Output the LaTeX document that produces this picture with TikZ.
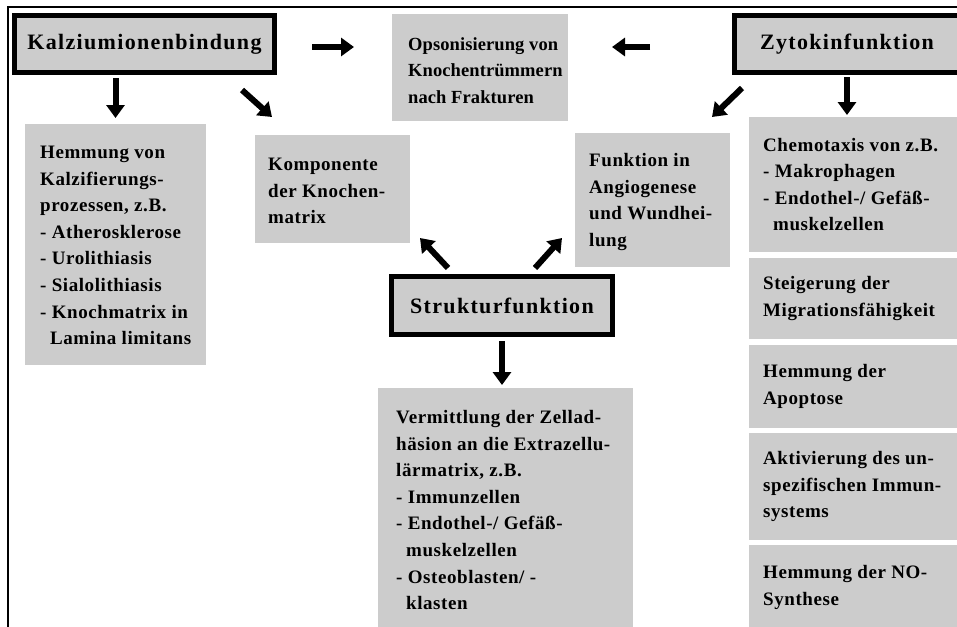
\documentclass[tikz,border=0pt]{standalone}
\usepackage{fontspec}
\setmainfont{Liberation Serif}[LetterSpace=6]
\newfontfamily\bodyfont{Liberation Serif}[LetterSpace=3]
\newfontfamily\opsfont{Liberation Serif}[LetterSpace=0.5]
\usetikzlibrary{arrows.meta,calc}
\definecolor{boxgray}{gray}{0.8}
\tikzset{
  graybox/.style={fill=boxgray, draw=none, inner sep=0pt, outer sep=0pt, anchor=north west},
  headbox/.style={fill=boxgray, draw=black, line width=5pt, inner sep=0pt, outer sep=2.5pt,
    font=\fontsize{22}{26}\selectfont\bfseries},
  boxtext/.style={anchor=west, inner sep=0pt, align=left,
    font=\bodyfont\fontsize{19}{26.6}\selectfont\bfseries},
  bigarrow/.style={line width=6pt, -{Triangle[length=13pt,width=18pt]}},
}
\begin{document}
\begin{tikzpicture}[x=1pt,y=-1pt]
\useasboundingbox (0,0) rectangle (957,626);
\clip (0,0) rectangle (957,626);
% frame
\draw[line width=2pt] (8,640) -- (8,7) -- (970,7);

% title boxes
\node[headbox, minimum width=260pt, minimum height=57pt] (kal) at (144.5,44) {Kalziumionenbindung};
\node[headbox, minimum width=225pt, minimum height=57pt] (zyt) at (847,44) {Zytokinfunktion};
\node[headbox, minimum width=221pt, minimum height=58pt] (str) at (502,305.5) {Strukturfunktion};

% gray boxes
\node[graybox, minimum width=176pt, minimum height=107pt] (ops) at (392,14) {};
\node[boxtext, font=\opsfont\fontsize{18.5}{26.6}\selectfont\bfseries] (opst) at ($(ops.west)+(16,3)$) {Opsonisierung von\\Knochentrümmern\\nach Frakturen};

\node[graybox, minimum width=181pt, minimum height=241pt] (hem) at (25,124) {};
\node[boxtext] (hemt) at ($(hem.west)+(15,1)$) {Hemmung von\\Kalzifierungs-\\prozessen, z.B.\\- Atherosklerose\\- Urolithiasis\\- Sialolithiasis\\- Knochmatrix in\\\hspace*{10pt}Lamina limitans};

\node[graybox, minimum width=155pt, minimum height=108pt] (komp) at (255,135) {};
\node[boxtext] (kompt) at ($(komp.west)+(13,2)$) {Komponente\\der Knochen-\\matrix};

\node[graybox, minimum width=155pt, minimum height=134pt] (funk) at (575,133) {};
\node[boxtext] (funkt) at ($(funk.west)+(14,2)$) {Funktion in\\Angiogenese\\und Wundhei-\\lung};

\node[graybox, minimum width=221pt, minimum height=135pt] (chem) at (749,117) {};
\node[boxtext] (chemt) at ($(chem.west)+(14,0)$) {Chemotaxis von z.B.\\- Makrophagen\\- Endothel-/ Gefäß-\\\hspace*{10pt}muskelzellen};

\node[graybox, minimum width=221pt, minimum height=81pt] (steig) at (749,258) {};
\node[boxtext] (steigt) at ($(steig.west)+(14,0)$) {Steigerung der\\Migrationsfähigkeit};

\node[graybox, minimum width=221pt, minimum height=83pt] (apop) at (749,345) {};
\node[boxtext] (apopt) at ($(apop.west)+(14,0)$) {Hemmung der\\Apoptose};

\node[graybox, minimum width=221pt, minimum height=107pt] (akt) at (749,433) {};
\node[boxtext] (aktt) at ($(akt.west)+(14,0)$) {Aktivierung des un-\\spezifischen Immun-\\systems};

\node[graybox, minimum width=221pt, minimum height=85pt] (nosy) at (749,545) {};
\node[boxtext] (nosyt) at ($(nosy.west)+(14,0)$) {Hemmung der NO-\\Synthese};

\node[graybox, minimum width=255pt, minimum height=244pt] (verm) at (378,388) {};
\node[boxtext] (vermt) at ($(verm.west)+(18,0)$) {Vermittlung der Zellad-\\häsion an die Extrazellu-\\lärmatrix, z.B.\\- Immunzellen\\- Endothel-/ Gefäß-\\\hspace*{10pt}muskelzellen\\- Osteoblasten/ -\\\hspace*{10pt}klasten};

% arrows
\draw[bigarrow] ($(hem.north |- kal.south)+(0,3)$) -- ($(hem.north)+(0,-6)$);
\draw[bigarrow] ($(kal.south east)+(-35,15)$) -- ($(komp.north west)+(17,-18)$);
\draw[bigarrow] ($(kal.east)+(35,3)$) -- ($(ops.north west)+(-38,33)$);
\draw[bigarrow] ($(zyt.west)+(-82,3)$) -- ($(ops.north east)+(44,33)$);
\draw[bigarrow] ($(zyt.south west)+(10,13)$) -- ($(funk.north east)+(-18,-16)$);
\draw[bigarrow] ($(zyt.south)+(0,2)$) -- ($(zyt.south |- chem.north)+(0,-2)$);
\draw[bigarrow] ($(str.north west)+(59,-6)$) -- ($(komp.south east)+(10,-5)$);
\draw[bigarrow] ($(str.north)+(33,-6)$) -- ($(funk.south west)+(-13,-29)$);
\draw[bigarrow] ($(str.south)+(0,4)$) -- ($(str.south |- verm.north)+(0,-3)$);
\end{tikzpicture}
\end{document}
